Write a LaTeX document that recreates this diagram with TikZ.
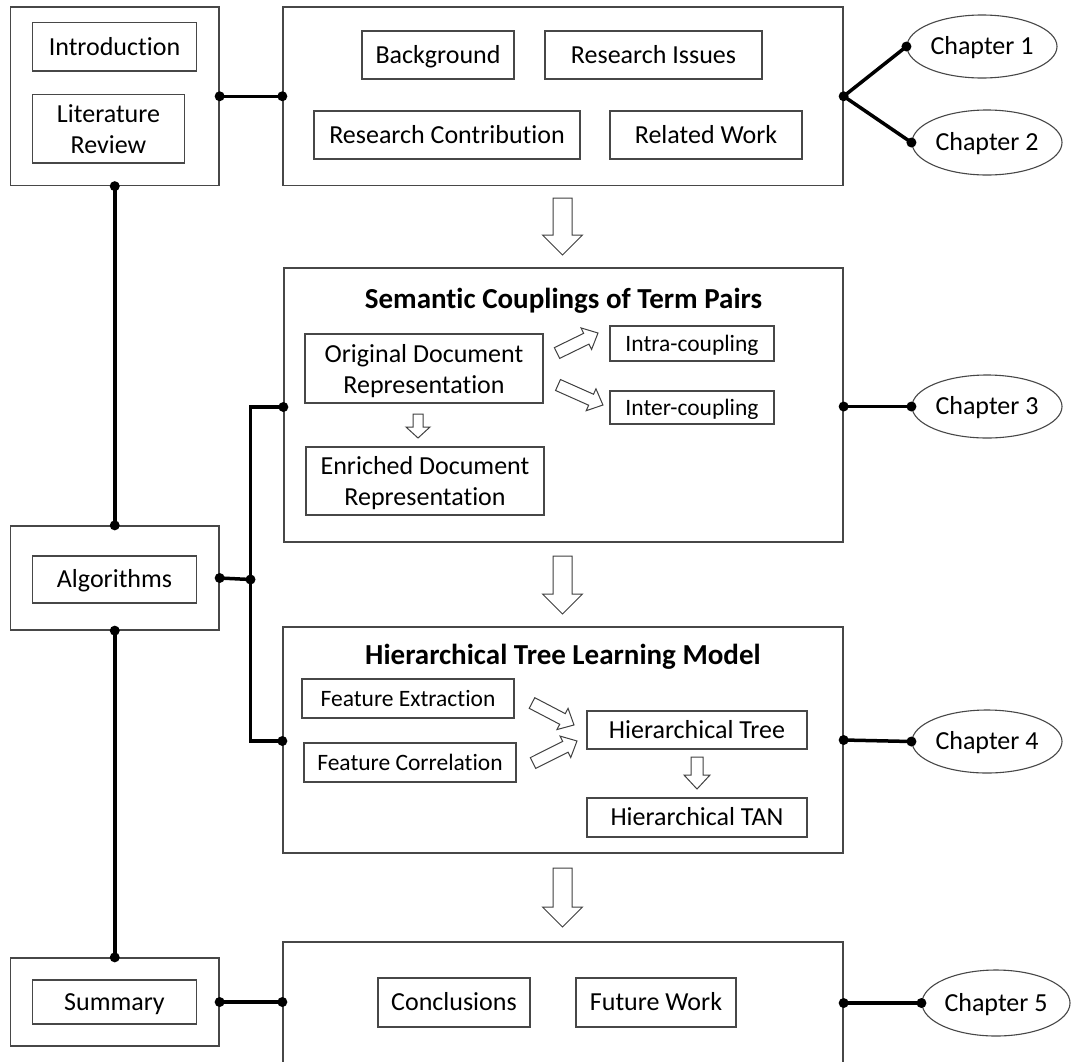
\documentclass[tikz,border=0pt]{standalone}
\usepackage{fontspec}
\setmainfont{Carlito}[Ligatures=NoCommon]
\usetikzlibrary{shapes.geometric,calc}
\newcommand\fsMain{\fontsize{26}{31}\selectfont}
\newcommand\fsSmall{\fontsize{23.5}{28}\selectfont}
\newcommand\fsTitle{\fontsize{29}{34}\selectfont\bfseries}
\newcommand\blk[6]{\begin{scope}[shift={#1},rotate=#2]\draw[hollow] (0,-#4)--({#3-#6},-#4)--({#3-#6},-#5)--(#3,0)--({#3-#6},#5)--({#3-#6},#4)--(0,#4)--cycle;\end{scope}}
\tikzset{
  frame/.style={draw=black!72, line width=1.3pt, rectangle, inner sep=0pt, align=center, font=\fsMain},
  box/.style={frame, text height=16.7pt, text depth=0pt},
  mbox/.style={frame, text depth=0pt},
  sbox/.style={frame, font=\fsSmall, text height=15.1pt, text depth=0pt},
  chap/.style={draw=black!72, line width=1.1pt, ellipse, inner sep=0pt, font=\fsMain, text height=16.7pt, text depth=0pt},
  title/.style={inner sep=0pt, font=\fsTitle, text height=18.7pt, text depth=0pt},
  conn/.style={line width=3.5pt, draw=black},
  hollow/.style={draw=black!75, line width=1pt, fill=white, line join=miter},
}
\begin{document}
\begin{tikzpicture}[x=1pt,y=-1pt]
\fill[white] (0,0) rectangle (1075,1061);
\useasboundingbox (0,0) rectangle (1075,1061);
% left column
\node[box, minimum width=208.5pt, minimum height=178.5pt] (o1) at (114.75,96.25) {};
\node[box, minimum width=164pt, minimum height=48.5pt] (intro) at (114.5,46.75) {Introduction};
\node[mbox, minimum width=152pt, minimum height=68.5pt] (lit) at (108.5,128.75) {Literature\\Review};
\node[box, minimum width=208.5pt, minimum height=104pt] (o2) at (114.75,578) {};
\node[box, minimum width=164pt, minimum height=47pt] (alg) at (114.5,579.5) {Algorithms};
\node[box, minimum width=208.5pt, minimum height=88pt] (o3) at (114.75,1002) {};
\node[box, minimum width=164pt, minimum height=44pt] (sum) at (114.5,1002) {Summary};
% top box
\node[box, minimum width=560pt, minimum height=178.5pt] (top) at (563,96.25) {};
\node[box, minimum width=152pt, minimum height=48pt] (bg) at (438,55) {Background};
\node[box, minimum width=217pt, minimum height=48pt] (ri) at (653.5,55) {Research Issues};
\node[box, minimum width=266pt, minimum height=48pt] (rc) at (447,135) {Research Contribution};
\node[box, minimum width=192pt, minimum height=48pt] (rw) at (706,135) {Related Work};
% semantic box
\node[box, minimum width=559pt, minimum height=274pt] (sem) at (563.5,405) {};
\node[title] (semt) at (563.5,299) {Semantic Couplings of Term Pairs};
\node[mbox, minimum width=238pt, minimum height=69pt] (odr) at (424,368.5) {Original Document\\Representation};
\node[mbox, minimum width=238pt, minimum height=68pt] (edr) at (425,481) {Enriched Document\\Representation};
\node[sbox, minimum width=164pt, minimum height=35pt] (intra) at (692,343.5) {Intra-coupling};
\node[sbox, minimum width=164pt, minimum height=33pt] (inter) at (692,407.5) {Inter-coupling};
% hierarchical box
\node[box, minimum width=560pt, minimum height=226pt] (hier) at (563,740) {};
\node[title] (hiert) at (563,655) {Hierarchical Tree Learning Model};
\node[sbox, minimum width=212pt, minimum height=39pt] (fe) at (408,698.5) {Feature Extraction};
\node[sbox, minimum width=212pt, minimum height=39pt] (fc) at (410,762.5) {Feature Correlation};
\node[box, minimum width=220pt, minimum height=38pt] (ht) at (697,730) {Hierarchical Tree};
\node[box, minimum width=220pt, minimum height=39pt] (htan) at (697,817.5) {Hierarchical TAN};
% bottom box
\node[box, minimum width=560pt, minimum height=140pt] (bot) at (563,1012) {};
\node[box, minimum width=152pt, minimum height=49pt] (concl) at (454,1002.5) {Conclusions};
\node[box, minimum width=160pt, minimum height=49pt] (fw) at (656,1002.5) {Future Work};
% chapters
\node[chap, minimum width=150pt, minimum height=63pt] (ch1) at (982,46.5) {Chapter 1};
\node[chap, minimum width=150pt, minimum height=65pt] (ch2) at (987,142.5) {Chapter 2};
\node[chap, minimum width=150pt, minimum height=63pt] (ch3) at (987,406.5) {Chapter 3};
\node[chap, minimum width=150pt, minimum height=63pt] (ch4) at (987,741.5) {Chapter 4};
\node[chap, minimum width=148pt, minimum height=66pt] (ch5) at (996,1003) {Chapter 5};
% connectors
\coordinate (jt) at (250.5,407);
\coordinate (j) at (250.5,579.5);
\coordinate (jb) at (250.5,741);
\draw[conn] (o1.east) -- (top.west);
\draw[conn] (ch1.west) -- (top.east) -- (ch2.west);
\draw[conn] (o1.south) -- (o2.north);
\draw[conn] (o2.south) -- (o3.north);
\draw[conn] (o3.east) -- (o3.east -| bot.west);
\draw[conn] (ch3.west -| sem.east) -- (ch3.west);
\draw[conn] (hier.east) -- (ch4.west);
\draw[conn] (ch5.west -| bot.east) -- (ch5.west);
\draw[conn] (o2.east) -- (j);
\draw[conn, line join=miter] (jt -| sem.west) -- (jt) -- (jb) -- (jb -| hier.west);
\foreach \p in {o1.east, top.west, top.east, ch1.west, ch2.west, o1.south, o2.north, o2.south, o3.north, o3.east, ch3.west, hier.east, ch4.west, ch5.west, o2.east, j}
  \fill (\p) circle (5pt);
\fill (o3.east -| bot.west) circle (5pt);
\fill (ch3.west -| sem.east) circle (5pt);
\fill (ch5.west -| bot.east) circle (5pt);
\fill (jt -| sem.west) circle (5pt);
\fill (jb -| hier.west) circle (5pt);
% block arrows
\blk{(562.5,198)}{-90}{57}{9.5}{20}{20}
\blk{(562.5,556)}{-90}{58}{9.5}{20}{20}
\blk{(562.5,868)}{-90}{59}{9.5}{20}{20}
\blk{(418,414)}{-90}{24}{5}{12}{11}
\blk{(697,757)}{-90}{32}{6}{13}{14}
\blk{(557,353)}{26}{45.6}{6}{12}{13}
\blk{(558,385)}{-24}{49.2}{6}{12}{13}
\blk{(532,703)}{-27.6}{47.4}{6}{12}{13}
\blk{(533,763)}{26.6}{49.2}{6}{12}{13}
\end{tikzpicture}
\end{document}
